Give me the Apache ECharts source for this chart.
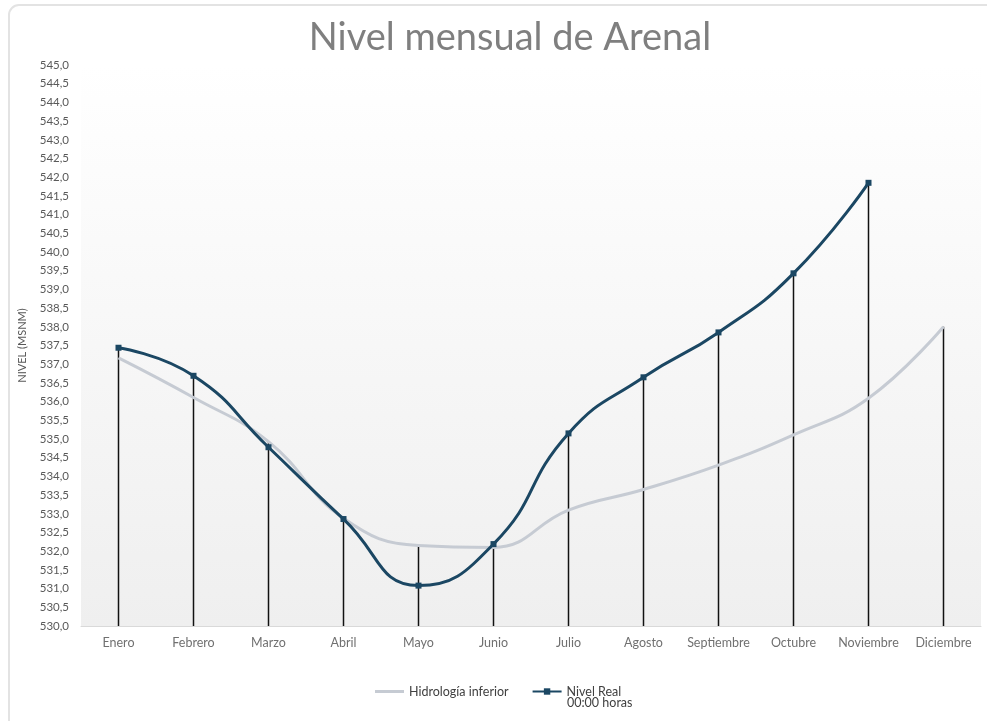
<!DOCTYPE html>
<html>
<head>
<meta charset="utf-8">
<script src="https://cdn.jsdelivr.net/npm/echarts@6/dist/echarts.min.js"></script>
<style>
  html, body { margin: 0; padding: 0; background: #ffffff; }
  #chart { width: 987px; height: 721px; }
</style>
</head>
<body>
<div id="chart"></div>
<script>
const titleText = 'Nivel mensual de Arenal';
const yAxisTitle = 'NIVEL (MSNM)';
const months = ['Enero', 'Febrero', 'Marzo', 'Abril', 'Mayo', 'Junio', 'Julio', 'Agosto', 'Septiembre', 'Octubre', 'Noviembre', 'Diciembre'];
const hidrologiaInferior = [537.17, 536.11, 534.93, 532.88, 532.15, 532.10, 533.10, 533.65, 534.30, 535.11, 536.09, 538.0];
const nivelReal = [537.44, 536.69, 534.78, 532.86, 531.08, 532.19, 535.15, 536.65, 537.85, 539.43, 541.85, null];
const seriesNames = ['Hidrología inferior', 'Nivel Real'];
const legendSubText = '00:00 horas';
const yMin = 530, yMax = 545, yStep = 0.5;

// drop lines reach the highest value of the two series at each month
const dropLines = months.map((m, i) => {
  const vals = [hidrologiaInferior[i], nivelReal[i]].filter(v => v != null);
  return vals.length ? Math.max(...vals) : null;
});

const chart = echarts.init(document.getElementById('chart'));
const font = 'Lato, "Open Sans", sans-serif';

chart.setOption({
  backgroundColor: '#ffffff',
  animation: false,
  title: {
    text: titleText,
    left: 505,
    textAlign: 'center',
    top: 14,
    textStyle: { fontFamily: font, fontSize: 38, fontWeight: 'normal', color: '#7f7f7f' }
  },
  graphic: [
    {
      type: 'rect', z: -10, silent: true,
      shape: { x: 9, y: 5, width: 1000, height: 730, r: 10 },
      style: { fill: 'none', stroke: '#e3e3e3', lineWidth: 2 }
    },
    {
      type: 'text', left: 567, top: 696, silent: true,
      style: { text: legendSubText, font: '12.5px ' + font, fill: '#404040' }
    }
  ],
  legend: {
    data: [
      { name: seriesNames[0], icon: 'path://M0,0 L29,0 L29,3 L0,3 Z' },
      { name: seriesNames[1] }
    ],
    left: 370,
    top: 680,
    itemWidth: 29,
    itemHeight: 8,
    itemGap: 23,
    textStyle: { fontFamily: font, fontSize: 12.5, color: '#404040' }
  },
  grid: {
    left: 81, right: 6, top: 65, bottom: 95,
    show: true,
    borderWidth: 0,
    backgroundColor: new echarts.graphic.LinearGradient(0, 0, 0, 1, [
      { offset: 0, color: '#ffffff' },
      { offset: 1, color: '#efefef' }
    ])
  },
  xAxis: {
    type: 'category',
    data: months,
    boundaryGap: true,
    axisLine: { show: true, lineStyle: { color: '#d9d9d9', width: 1 } },
    axisTick: { show: false },
    axisLabel: { margin: 10, fontFamily: font, fontSize: 12.5, color: '#707070', interval: 0 },
    splitLine: { show: false }
  },
  yAxis: {
    type: 'value',
    min: yMin, max: yMax, interval: yStep,
    name: yAxisTitle,
    nameLocation: 'middle',
    nameGap: 53,
    nameTextStyle: { fontFamily: font, fontSize: 11, color: '#595959' },
    axisLine: { show: false },
    axisTick: { show: false },
    splitLine: { show: false },
    axisLabel: {
      margin: 12, fontFamily: font, fontSize: 11.5, color: '#595959',
      formatter: v => v.toFixed(1).replace('.', ',')
    }
  },
  series: [
    {
      name: 'drop',
      type: 'bar',
      data: dropLines,
      barWidth: 1.5,
      clip: true,
      itemStyle: { color: '#111111' },
      silent: true,
      z: 1
    },
    {
      name: seriesNames[0],
      type: 'line',
      data: hidrologiaInferior,
      smooth: 0.45,
      symbol: 'none',
      lineStyle: { color: '#c6cbd3', width: 3 },
      itemStyle: { color: '#c6cbd3' },
      z: 2
    },
    {
      name: seriesNames[1],
      type: 'line',
      data: nivelReal,
      smooth: 0.5,
      symbol: 'rect',
      symbolSize: 6,
      showSymbol: true,
      lineStyle: { color: '#1b4763', width: 3 },
      itemStyle: { color: '#1b4763' },
      z: 3
    }
  ]
});
</script>
</body>
</html>
